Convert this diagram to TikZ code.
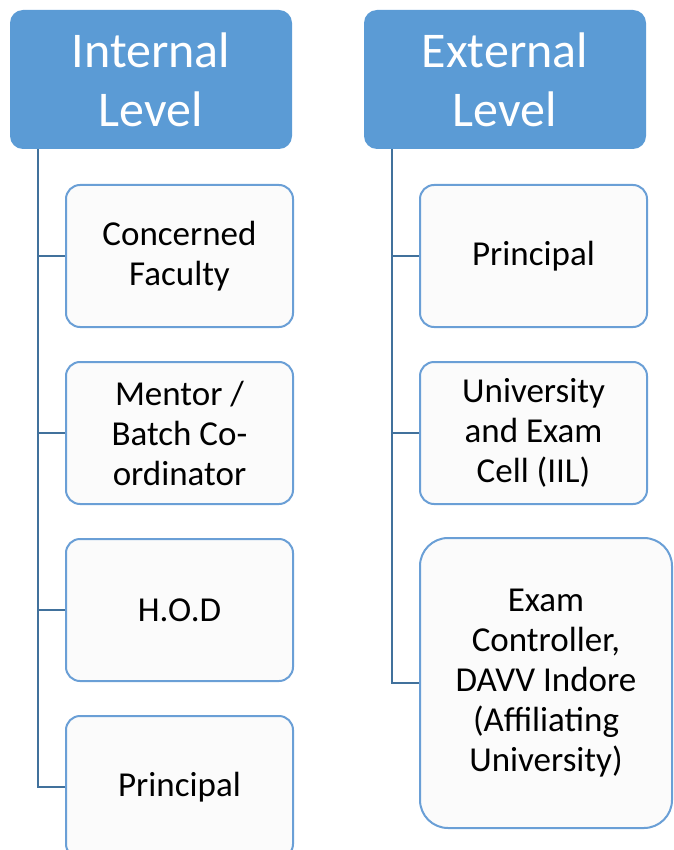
\documentclass[tikz,border=0pt]{standalone}
\usepackage{fontspec}
\setmainfont{Carlito}
\definecolor{hdrblue}{HTML}{5B9BD5}
\definecolor{boxline}{HTML}{6A9FD6}
\definecolor{connblue}{HTML}{41719C}
\definecolor{boxfill}{HTML}{FBFBFB}
\begin{document}
\begin{tikzpicture}[x=1pt,y=-1pt,
  header/.style={draw=none,fill=hdrblue,rounded corners=13pt,minimum width=282pt,minimum height=139pt,
    text=white,align=center,font=\fontsize{50}{59}\selectfont,inner sep=0pt},
  item/.style={draw=boxline,line width=2pt,fill=boxfill,rounded corners=14pt,minimum width=227pt,minimum height=142pt,
    align=center,font=\fontsize{35}{40}\selectfont,inner sep=0pt},
  conn/.style={draw=connblue,line width=2pt}]
\useasboundingbox (0,0) rectangle (673,850);
\begin{scope}
\clip (0,0) rectangle (673,850);
\node[header] (hI) at (151,79.5) {Internal\\Level};
\node[header] (hE) at (505,79.5) {External\\Level};
\coordinate (iTop) at (38,149);
\coordinate (eTop) at (392,149);
\node[item] (i1) at (179.5,256) {Concerned\\Faculty};
\node[item] (i2) at (179.5,433) {Mentor /\\Batch Co-\\ordinator};
\node[item] (i3) at (179.5,610) {H.O.D};
\node[item] (i4) at (179.5,787) {Principal};
\node[item] (e1) at (533.5,256) {Principal};
\node[item] (e2) at (533.5,433) {University\\and Exam\\Cell (IIL)};
\node[item,minimum width=252pt,minimum height=290pt,rounded corners=28pt] (e3) at (546,683) {Exam\\Controller,\\DAVV Indore\\(Affiliating\\University)};
\draw[conn] (iTop) |- (i4.west);
\draw[conn] (i1.west) -- (i1.west -| iTop);
\draw[conn] (i2.west) -- (i2.west -| iTop);
\draw[conn] (i3.west) -- (i3.west -| iTop);
\draw[conn] (eTop) |- (e3.west);
\draw[conn] (e1.west) -- (e1.west -| eTop);
\draw[conn] (e2.west) -- (e2.west -| eTop);
\end{scope}
\end{tikzpicture}
\end{document}
